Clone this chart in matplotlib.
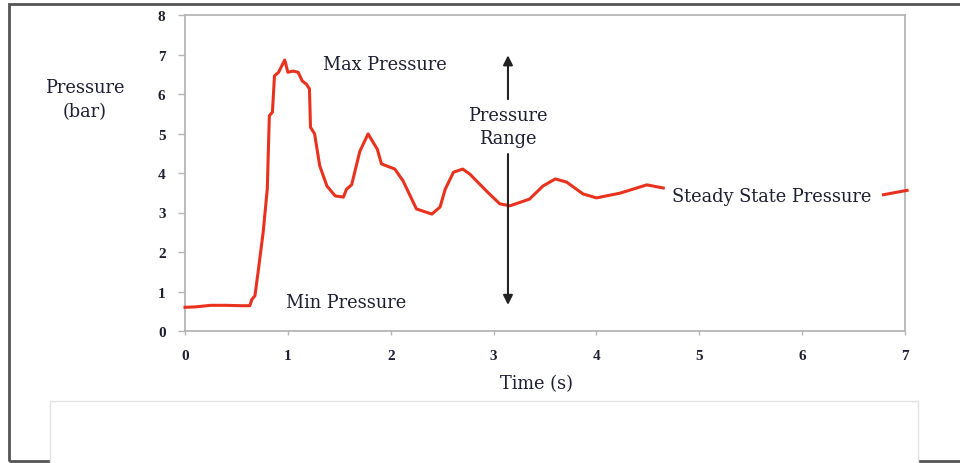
import numpy as np
import matplotlib
matplotlib.use("Agg")
import matplotlib.pyplot as plt
from matplotlib.patches import Rectangle

# ---- data ----
time_s = [0.00, 0.10, 0.25, 0.40, 0.55, 0.63, 0.65, 0.68, 0.71, 0.76, 0.80,
          0.82, 0.85, 0.87, 0.91, 0.94, 0.97, 1.00, 1.05, 1.10, 1.14, 1.18,
          1.21, 1.22, 1.26, 1.31, 1.38, 1.46, 1.54, 1.57, 1.62, 1.70, 1.78,
          1.87, 1.91, 2.04, 2.12, 2.25, 2.40, 2.48, 2.53, 2.61, 2.70, 2.77,
          2.94, 3.06, 3.16, 3.35, 3.48, 3.60, 3.71, 3.87, 4.00, 4.23, 4.49,
          4.65, np.nan, 6.79, 7.02]
pressure_bar = [0.60, 0.61, 0.65, 0.65, 0.64, 0.64, 0.80, 0.89, 1.48, 2.50,
                3.60, 5.45, 5.54, 6.46, 6.55, 6.71, 6.86, 6.55, 6.58, 6.55,
                6.33, 6.25, 6.13, 5.16, 4.99, 4.18, 3.67, 3.42, 3.39, 3.59,
                3.70, 4.55, 4.99, 4.60, 4.23, 4.10, 3.80, 3.09, 2.96, 3.14,
                3.59, 4.02, 4.10, 3.97, 3.52, 3.22, 3.17, 3.34, 3.67, 3.85,
                3.77, 3.47, 3.37, 3.49, 3.70, 3.62, np.nan, 3.45, 3.56]

x_ticks = [0, 1, 2, 3, 4, 5, 6, 7]
y_ticks = [0, 1, 2, 3, 4, 5, 6, 7, 8]

range_arrow_x = 3.14
range_arrow_up = (5.87, 6.98)
range_arrow_down = (4.48, 0.66)

plt.rcParams['font.family'] = ['Liberation Serif', 'DejaVu Serif']
text_color = '#1f1f33'
label_font = dict(family=['DejaVu Serif'], fontsize=12.8, color=text_color)

fig = plt.figure(figsize=(9.6, 4.64), dpi=100)
fig.patch.set_facecolor('white')

# outer frame
fig.patches.append(Rectangle((9/960, 2/464), 1.2, 457/464, transform=fig.transFigure,
                             fill=False, edgecolor='#555555', lw=2.0, zorder=0))
# lower blank panel
fig.patches.append(Rectangle((50/960, -0.05), 868/960, 0.05 + 62/464,
                             transform=fig.transFigure, facecolor='white',
                             edgecolor='#e2e2e2', lw=1.0, zorder=0))

ax = fig.add_axes([185/960, 1 - 332/464, 720/960, 316/464])
ax.plot(time_s, pressure_bar, color='#e8321e', lw=2.2, solid_joinstyle='round',
        clip_on=False, zorder=3)

ax.set_xlim(0, 7)
ax.set_ylim(0, 8)
ax.set_xticks(x_ticks)
ax.set_yticks(y_ticks)
ax.set_xticklabels([str(v) for v in x_ticks])
ax.set_yticklabels([str(v) for v in y_ticks])
for s in ax.spines.values():
    s.set_color('#b5b5b5')
    s.set_linewidth(1.3)
ax.tick_params(axis='x', direction='out', length=3, width=1, color='#b5b5b5',
               pad=10, labelsize=11, labelcolor=text_color)
ax.tick_params(axis='y', direction='out', length=5, width=1, color='#b5b5b5',
               pad=9, labelsize=11, labelcolor=text_color)
for lab in ax.get_xticklabels() + ax.get_yticklabels():
    lab.set_fontweight('bold')

ax.set_xlabel('Time (s)', **label_font)
ax.xaxis.set_label_coords(352/720, -0.135)
fig.text(85/960, 1 - 100/464, 'Pressure\n(bar)', ha='center', va='center',
         linespacing=1.4, **label_font)

ax.text(1.94, 6.76, 'Max Pressure', ha='center', va='center', **label_font)
ax.text(1.57, 0.73, 'Min Pressure', ha='center', va='center', **label_font)
ax.text(range_arrow_x, 5.18, 'Pressure\nRange', ha='center', va='center',
        linespacing=1.35, **label_font)
ax.text(5.70, 3.42, 'Steady State Pressure', ha='center', va='center',
        **label_font)

ax.annotate('', xy=(range_arrow_x, range_arrow_up[1]),
            xytext=(range_arrow_x, range_arrow_up[0]),
            arrowprops=dict(arrowstyle='-|>', color='#222222', lw=1.5,
                            mutation_scale=14, shrinkA=0, shrinkB=0))
ax.annotate('', xy=(range_arrow_x, range_arrow_down[1]),
            xytext=(range_arrow_x, range_arrow_down[0]),
            arrowprops=dict(arrowstyle='-|>', color='#222222', lw=1.5,
                            mutation_scale=14, shrinkA=0, shrinkB=0))

fig.savefig('out.png', dpi=100, facecolor='white')
